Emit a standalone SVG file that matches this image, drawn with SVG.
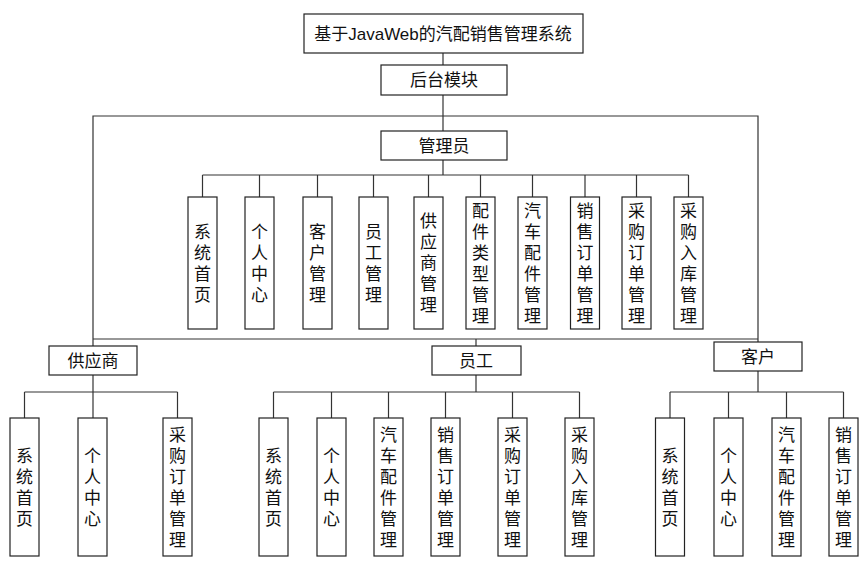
<svg xmlns="http://www.w3.org/2000/svg" width="862" height="569" viewBox="0 0 862 569">
<style>
rect{fill:#fff;stroke:#222;stroke-width:1.2}
.c line,.c polyline{stroke:#333;stroke-width:1.2;fill:none}
text{font-family:"Liberation Sans","Noto Sans CJK SC",sans-serif;font-size:17px;fill:#111;text-anchor:middle}
</style>
<rect x="0" y="0" width="862" height="569" style="fill:#fff;stroke:none"/>
<g class="c" id="connectors">
<line x1="443" y1="53" x2="443" y2="65"/>
<line x1="443" y1="95" x2="443" y2="131"/>
<polyline points="93,346 93,116 758,116 758,342"/>
<line x1="443" y1="160" x2="443" y2="175"/>
<line x1="202.5" y1="175" x2="688.5" y2="175"/>
<line x1="202.5" y1="175" x2="202.5" y2="197"/><line x1="259.5" y1="175" x2="259.5" y2="197"/><line x1="317.5" y1="175" x2="317.5" y2="197"/><line x1="373.5" y1="175" x2="373.5" y2="197"/><line x1="428.5" y1="175" x2="428.5" y2="197"/><line x1="480.5" y1="175" x2="480.5" y2="197"/><line x1="532.5" y1="175" x2="532.5" y2="197"/><line x1="585" y1="175" x2="585" y2="197"/><line x1="636.5" y1="175" x2="636.5" y2="197"/><line x1="688.5" y1="175" x2="688.5" y2="197"/>
<line x1="93" y1="339" x2="758" y2="339"/>
<line x1="476" y1="339" x2="476" y2="346"/>
<line x1="93" y1="375" x2="93" y2="418"/>
<line x1="24.5" y1="392" x2="177.5" y2="392"/>
<line x1="24.5" y1="392" x2="24.5" y2="418"/><line x1="177.5" y1="392" x2="177.5" y2="418"/>
<line x1="476" y1="375" x2="476" y2="392"/>
<line x1="273.5" y1="392" x2="579.5" y2="392"/>
<line x1="273.5" y1="392" x2="273.5" y2="418"/><line x1="331.5" y1="392" x2="331.5" y2="418"/><line x1="388.5" y1="392" x2="388.5" y2="418"/><line x1="445.5" y1="392" x2="445.5" y2="418"/><line x1="512.5" y1="392" x2="512.5" y2="418"/><line x1="579.5" y1="392" x2="579.5" y2="418"/>
<line x1="758" y1="371" x2="758" y2="392"/>
<line x1="670" y1="392" x2="843.5" y2="392"/>
<line x1="670" y1="392" x2="670" y2="418"/><line x1="728.5" y1="392" x2="728.5" y2="418"/><line x1="786.5" y1="392" x2="786.5" y2="418"/><line x1="843.5" y1="392" x2="843.5" y2="418"/>
</g>
<g id="root"><rect x="304" y="14" width="279" height="39"/><text x="443" y="40">基于JavaWeb的汽配销售管理系统</text></g>
<g id="backend"><rect x="381" y="65" width="126" height="30"/><text x="444" y="86">后台模块</text></g>
<g id="admin"><rect x="381" y="131" width="126" height="29"/><text x="444" y="152">管理员</text></g>
<g id="a1"><rect x="188" y="197" width="29" height="132"/><text x="202.5" y="237.5"><tspan x="202.5">系</tspan><tspan x="202.5" dy="21">统</tspan><tspan x="202.5" dy="21">首</tspan><tspan x="202.5" dy="21">页</tspan></text></g>
<g id="a2"><rect x="245" y="197" width="29" height="132"/><text x="259.5" y="237.5"><tspan x="259.5">个</tspan><tspan x="259.5" dy="21">人</tspan><tspan x="259.5" dy="21">中</tspan><tspan x="259.5" dy="21">心</tspan></text></g>
<g id="a3"><rect x="303" y="197" width="29" height="132"/><text x="317.5" y="237.5"><tspan x="317.5">客</tspan><tspan x="317.5" dy="21">户</tspan><tspan x="317.5" dy="21">管</tspan><tspan x="317.5" dy="21">理</tspan></text></g>
<g id="a4"><rect x="359" y="197" width="29" height="132"/><text x="373.5" y="237.5"><tspan x="373.5">员</tspan><tspan x="373.5" dy="21">工</tspan><tspan x="373.5" dy="21">管</tspan><tspan x="373.5" dy="21">理</tspan></text></g>
<g id="a5"><rect x="414" y="197" width="29" height="132"/><text x="428.5" y="227"><tspan x="428.5">供</tspan><tspan x="428.5" dy="21">应</tspan><tspan x="428.5" dy="21">商</tspan><tspan x="428.5" dy="21">管</tspan><tspan x="428.5" dy="21">理</tspan></text></g>
<g id="a6"><rect x="466" y="197" width="29" height="132"/><text x="480.5" y="216.5"><tspan x="480.5">配</tspan><tspan x="480.5" dy="21">件</tspan><tspan x="480.5" dy="21">类</tspan><tspan x="480.5" dy="21">型</tspan><tspan x="480.5" dy="21">管</tspan><tspan x="480.5" dy="21">理</tspan></text></g>
<g id="a7"><rect x="518" y="197" width="29" height="132"/><text x="532.5" y="216.5"><tspan x="532.5">汽</tspan><tspan x="532.5" dy="21">车</tspan><tspan x="532.5" dy="21">配</tspan><tspan x="532.5" dy="21">件</tspan><tspan x="532.5" dy="21">管</tspan><tspan x="532.5" dy="21">理</tspan></text></g>
<g id="a8"><rect x="570.5" y="197" width="29" height="132"/><text x="585" y="216.5"><tspan x="585">销</tspan><tspan x="585" dy="21">售</tspan><tspan x="585" dy="21">订</tspan><tspan x="585" dy="21">单</tspan><tspan x="585" dy="21">管</tspan><tspan x="585" dy="21">理</tspan></text></g>
<g id="a9"><rect x="622" y="197" width="29" height="132"/><text x="636.5" y="216.5"><tspan x="636.5">采</tspan><tspan x="636.5" dy="21">购</tspan><tspan x="636.5" dy="21">订</tspan><tspan x="636.5" dy="21">单</tspan><tspan x="636.5" dy="21">管</tspan><tspan x="636.5" dy="21">理</tspan></text></g>
<g id="a10"><rect x="674" y="197" width="29" height="132"/><text x="688.5" y="216.5"><tspan x="688.5">采</tspan><tspan x="688.5" dy="21">购</tspan><tspan x="688.5" dy="21">入</tspan><tspan x="688.5" dy="21">库</tspan><tspan x="688.5" dy="21">管</tspan><tspan x="688.5" dy="21">理</tspan></text></g>
<g id="supplier"><rect x="49" y="346" width="88" height="29"/><text x="93" y="367">供应商</text></g>
<g id="staff"><rect x="432" y="346" width="89" height="29"/><text x="476" y="367">员工</text></g>
<g id="customer"><rect x="714" y="342" width="88" height="29"/><text x="758" y="363">客户</text></g>
<g id="s1"><rect x="10" y="418" width="29" height="138"/><text x="24.5" y="461.5"><tspan x="24.5">系</tspan><tspan x="24.5" dy="21">统</tspan><tspan x="24.5" dy="21">首</tspan><tspan x="24.5" dy="21">页</tspan></text></g>
<g id="s2"><rect x="78" y="418" width="29" height="138"/><text x="92.5" y="461.5"><tspan x="92.5">个</tspan><tspan x="92.5" dy="21">人</tspan><tspan x="92.5" dy="21">中</tspan><tspan x="92.5" dy="21">心</tspan></text></g>
<g id="s3"><rect x="163" y="418" width="29" height="138"/><text x="177.5" y="440.5"><tspan x="177.5">采</tspan><tspan x="177.5" dy="21">购</tspan><tspan x="177.5" dy="21">订</tspan><tspan x="177.5" dy="21">单</tspan><tspan x="177.5" dy="21">管</tspan><tspan x="177.5" dy="21">理</tspan></text></g>
<g id="e1"><rect x="259" y="418" width="29" height="138"/><text x="273.5" y="461.5"><tspan x="273.5">系</tspan><tspan x="273.5" dy="21">统</tspan><tspan x="273.5" dy="21">首</tspan><tspan x="273.5" dy="21">页</tspan></text></g>
<g id="e2"><rect x="317" y="418" width="29" height="138"/><text x="331.5" y="461.5"><tspan x="331.5">个</tspan><tspan x="331.5" dy="21">人</tspan><tspan x="331.5" dy="21">中</tspan><tspan x="331.5" dy="21">心</tspan></text></g>
<g id="e3"><rect x="374" y="418" width="29" height="138"/><text x="388.5" y="440.5"><tspan x="388.5">汽</tspan><tspan x="388.5" dy="21">车</tspan><tspan x="388.5" dy="21">配</tspan><tspan x="388.5" dy="21">件</tspan><tspan x="388.5" dy="21">管</tspan><tspan x="388.5" dy="21">理</tspan></text></g>
<g id="e4"><rect x="431" y="418" width="29" height="138"/><text x="445.5" y="440.5"><tspan x="445.5">销</tspan><tspan x="445.5" dy="21">售</tspan><tspan x="445.5" dy="21">订</tspan><tspan x="445.5" dy="21">单</tspan><tspan x="445.5" dy="21">管</tspan><tspan x="445.5" dy="21">理</tspan></text></g>
<g id="e5"><rect x="498" y="418" width="29" height="138"/><text x="512.5" y="440.5"><tspan x="512.5">采</tspan><tspan x="512.5" dy="21">购</tspan><tspan x="512.5" dy="21">订</tspan><tspan x="512.5" dy="21">单</tspan><tspan x="512.5" dy="21">管</tspan><tspan x="512.5" dy="21">理</tspan></text></g>
<g id="e6"><rect x="565" y="418" width="29" height="138"/><text x="579.5" y="440.5"><tspan x="579.5">采</tspan><tspan x="579.5" dy="21">购</tspan><tspan x="579.5" dy="21">入</tspan><tspan x="579.5" dy="21">库</tspan><tspan x="579.5" dy="21">管</tspan><tspan x="579.5" dy="21">理</tspan></text></g>
<g id="k1"><rect x="655.5" y="418" width="29" height="138"/><text x="670" y="461.5"><tspan x="670">系</tspan><tspan x="670" dy="21">统</tspan><tspan x="670" dy="21">首</tspan><tspan x="670" dy="21">页</tspan></text></g>
<g id="k2"><rect x="714" y="418" width="29" height="138"/><text x="728.5" y="461.5"><tspan x="728.5">个</tspan><tspan x="728.5" dy="21">人</tspan><tspan x="728.5" dy="21">中</tspan><tspan x="728.5" dy="21">心</tspan></text></g>
<g id="k3"><rect x="772" y="418" width="29" height="138"/><text x="786.5" y="440.5"><tspan x="786.5">汽</tspan><tspan x="786.5" dy="21">车</tspan><tspan x="786.5" dy="21">配</tspan><tspan x="786.5" dy="21">件</tspan><tspan x="786.5" dy="21">管</tspan><tspan x="786.5" dy="21">理</tspan></text></g>
<g id="k4"><rect x="829" y="418" width="29" height="138"/><text x="843.5" y="440.5"><tspan x="843.5">销</tspan><tspan x="843.5" dy="21">售</tspan><tspan x="843.5" dy="21">订</tspan><tspan x="843.5" dy="21">单</tspan><tspan x="843.5" dy="21">管</tspan><tspan x="843.5" dy="21">理</tspan></text></g>
</svg>
